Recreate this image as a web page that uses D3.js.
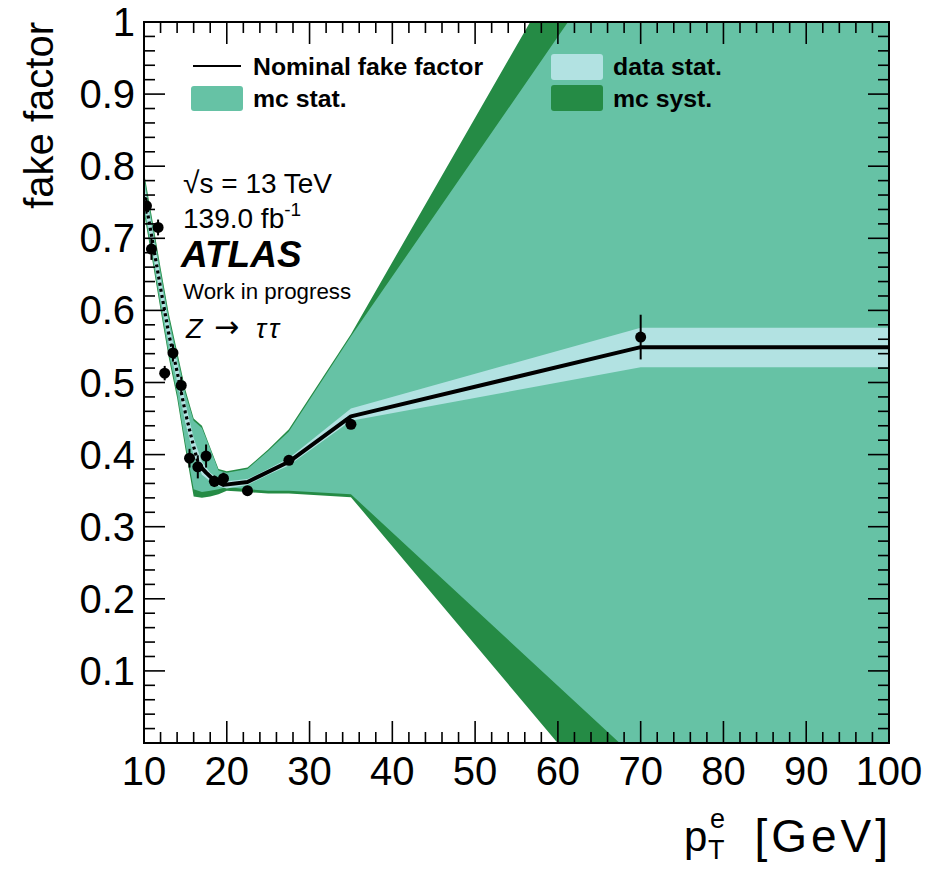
<!DOCTYPE html>
<html>
<head>
<meta charset="utf-8">
<script src="https://cdn.jsdelivr.net/npm/d3@7"></script>
<style>
  body { margin: 0; background: #fff; }
  svg { display: block; font-family: "Liberation Sans", Arial, Helvetica, sans-serif; }
</style>
</head>
<body>
<svg id="chart" width="945" height="870"></svg>
<script>
// Measured fake factors per electron pT bin
const ptData = [10.3, 10.9, 11.7, 12.5, 13.5, 14.5, 15.5, 16.5, 17.5, 18.5, 19.6, 22.5, 27.5, 35, 70];
const ffData = [0.745, 0.685, 0.715, 0.513, 0.541, 0.496, 0.395, 0.383, 0.398, 0.363, 0.367, 0.350, 0.392, 0.442, 0.563];
const ffErr  = [0.011, 0.015, 0.011, 0.010, 0.012, 0.012, 0.013, 0.016, 0.016, 0.008, 0.008, 0.006, 0.006, 0.006, 0.031];

// Nominal fake factor curve (dotted below the switch point, solid above)
const nomX = [10.1, 11, 12, 13, 14, 15, 16, 16.6, 17.5, 18.5, 19.6, 22.5, 27.5, 35, 70, 100];
const nomY = [0.757, 0.698, 0.631, 0.567, 0.515, 0.458, 0.411, 0.386, 0.375, 0.364, 0.358, 0.362, 0.390, 0.453, 0.549, 0.549];
const solidFrom = 16.6;

// Uncertainty band envelopes
const bandX     = [10.1, 11, 12, 13, 14, 15, 16, 17, 18, 19, 20, 22.5, 25, 27.5, 35, 70, 100];
const systUp    = [0.785, 0.726, 0.659, 0.595, 0.543, 0.490, 0.450, 0.440, 0.410, 0.380, 0.377, 0.382, 0.407, 0.435, 0.567, 1.267, 1.267];
const systDown  = [0.729, 0.670, 0.601, 0.534, 0.479, 0.408, 0.342, 0.340, 0.342, 0.345, 0.350, 0.348, 0.346, 0.346, 0.341, -0.137, -0.137];
const mcStatUp  = [0.779, 0.720, 0.653, 0.589, 0.537, 0.485, 0.447, 0.437, 0.408, 0.378, 0.375, 0.380, 0.405, 0.432, 0.564, 1.146, 1.146];
const mcStatDown= [0.735, 0.676, 0.607, 0.540, 0.485, 0.415, 0.352, 0.348, 0.350, 0.352, 0.355, 0.352, 0.350, 0.350, 0.345, -0.027, -0.027];
const dataStatUp   = [0.771, 0.712, 0.645, 0.581, 0.529, 0.472, 0.423, 0.390, 0.375, 0.366, 0.363, 0.366, 0.380, 0.395, 0.464, 0.576, 0.576];
const dataStatDown = [0.743, 0.684, 0.617, 0.553, 0.501, 0.444, 0.399, 0.372, 0.363, 0.356, 0.353, 0.358, 0.372, 0.385, 0.447, 0.521, 0.521];

const xTicks = [10, 20, 30, 40, 50, 60, 70, 80, 90, 100];
const yTicks = [0.1, 0.2, 0.3, 0.4, 0.5, 0.6, 0.7, 0.8, 0.9, 1];

const colSyst = "#258b45", colMcStat = "#66c2a5", colDataStat = "#b2e2e2";

const svg = d3.select("#chart");
const L = 144, R = 889, T = 22, B = 743;
const x = d3.scaleLinear().domain([10, 100]).range([L, R]);
const y = d3.scaleLinear().domain([0, 1]).range([B, T]);

svg.append("clipPath").attr("id", "plotclip")
  .append("rect").attr("x", L).attr("y", T).attr("width", R - L).attr("height", B - T);
const plot = svg.append("g").attr("clip-path", "url(#plotclip)");

function band(up, down) {
  return d3.area().x((d, i) => x(bandX[i])).y0((d, i) => y(down[i])).y1((d, i) => y(up[i]))(bandX);
}
plot.append("path").attr("d", band(systUp, systDown)).attr("fill", colSyst);
plot.append("path").attr("d", band(mcStatUp, mcStatDown)).attr("fill", colMcStat);
plot.append("path").attr("d", band(dataStatUp, dataStatDown)).attr("fill", colDataStat);

// nominal curve
const nomPts = nomX.map((v, i) => [v, nomY[i]]);
const line = d3.line().x(d => x(d[0])).y(d => y(d[1]));
plot.append("path").attr("d", line(nomPts.filter(d => d[0] <= solidFrom)))
  .attr("fill", "none").attr("stroke", "#000").attr("stroke-width", 3.2)
  .attr("stroke-dasharray", "3,3.2");
plot.append("path").attr("d", line(nomPts.filter(d => d[0] >= solidFrom)))
  .attr("fill", "none").attr("stroke", "#000").attr("stroke-width", 4)
  .attr("stroke-linejoin", "round");

// data points with error bars
const pts = plot.append("g");
ptData.forEach((v, i) => {
  pts.append("line").attr("x1", x(v)).attr("x2", x(v))
    .attr("y1", y(ffData[i] - ffErr[i])).attr("y2", y(ffData[i] + ffErr[i]))
    .attr("stroke", "#000").attr("stroke-width", 2);
  pts.append("circle").attr("cx", x(v)).attr("cy", y(ffData[i])).attr("r", 5.5).attr("fill", "#000");
});

// frame and ticks on all four sides
const ax = svg.append("g").attr("stroke", "#000").attr("stroke-width", 1.6);
ax.append("rect").attr("x", L).attr("y", T).attr("width", R - L).attr("height", B - T).attr("fill", "none").attr("stroke-width", 2);
d3.range(10, 100.001, 2).forEach(v => {
  const major = Math.abs(v % 10) < 1e-6;
  const len = major ? 22 : 11;
  ax.append("line").attr("x1", x(v)).attr("x2", x(v)).attr("y1", B).attr("y2", B - len);
  ax.append("line").attr("x1", x(v)).attr("x2", x(v)).attr("y1", T).attr("y2", T + len);
});
d3.range(0, 50.001, 1).forEach(k => {
  const v = k * 0.02;
  const major = k % 5 === 0;
  const len = major ? 21 : 11;
  ax.append("line").attr("y1", y(v)).attr("y2", y(v)).attr("x1", L).attr("x2", L + len);
  ax.append("line").attr("y1", y(v)).attr("y2", y(v)).attr("x1", R).attr("x2", R - len);
});

// tick labels
svg.append("g").selectAll("text").data(xTicks).join("text")
  .attr("x", d => x(d)).attr("y", 785).attr("text-anchor", "middle")
  .attr("font-size", 40).text(d => String(d));
svg.append("g").selectAll("text").data(yTicks).join("text")
  .attr("x", 135).attr("y", d => y(d) + 14).attr("text-anchor", "end")
  .attr("font-size", 40).text(d => d === 1 ? "1" : d3.format(".1f")(d));

// axis titles
svg.append("text").attr("transform", "translate(53,22) rotate(-90)")
  .attr("text-anchor", "end").attr("font-size", 40).text("fake factor");
const xtg = svg.append("g");
xtg.append("text").attr("x", 684).attr("y", 851).attr("font-size", 42).text("p");
xtg.append("text").attr("x", 708).attr("y", 859).attr("font-size", 27).text("T");
xtg.append("text").attr("x", 710).attr("y", 828).attr("font-size", 27).text("e");
xtg.append("text").attr("x", 892).attr("y", 852).attr("text-anchor", "end")
  .attr("font-size", 46).attr("letter-spacing", 4).text("[GeV]");

// legend
const lg = svg.append("g").attr("font-weight", "bold").attr("font-size", 24.8);
lg.append("line").attr("x1", 193).attr("x2", 241).attr("y1", 66).attr("y2", 66).attr("stroke", "#000").attr("stroke-width", 2);
lg.append("text").attr("x", 253).attr("y", 75).text("Nominal fake factor");
lg.append("rect").attr("x", 191).attr("y", 86).attr("width", 52).attr("height", 25).attr("rx", 3).attr("fill", colMcStat);
lg.append("text").attr("x", 253).attr("y", 107).text("mc stat.");
lg.append("rect").attr("x", 551).attr("y", 54).attr("width", 52).attr("height", 26).attr("rx", 3).attr("fill", colDataStat);
lg.append("text").attr("x", 613).attr("y", 75).text("data stat.");
lg.append("rect").attr("x", 551).attr("y", 85).attr("width", 52).attr("height", 26).attr("rx", 3).attr("fill", colSyst);
lg.append("text").attr("x", 613).attr("y", 107).text("mc syst.");

// annotations
const an = svg.append("g");
const rs = an.append("text").attr("x", 183).attr("y", 193).attr("font-size", 28);
rs.append("tspan").attr("font-size", 30).text("\u221A");
rs.append("tspan").text("s = 13 TeV");
const lumi = an.append("text").attr("x", 183).attr("y", 228).attr("font-size", 28);
lumi.append("tspan").text("139.0 fb");
lumi.append("tspan").attr("font-size", 19).attr("dy", -12).text("-1");
an.append("text").attr("x", 181).attr("y", 267).attr("font-size", 37)
  .attr("font-weight", "bold").attr("font-style", "italic").text("ATLAS");
an.append("text").attr("x", 183).attr("y", 299).attr("font-size", 22.3).text("Work in progress");
an.append("text").attr("x", 186).attr("y", 338).attr("font-size", 27).attr("font-style", "italic").text("Z");
an.append("text").attr("x", 214).attr("y", 337).attr("font-size", 30)
  .attr("font-family", "DejaVu Sans").text("\u2192");
an.append("text").attr("x", 256).attr("y", 338).attr("font-size", 27).attr("font-style", "italic")
  .attr("letter-spacing", 3).text("\u03C4\u03C4");
</script>
</body>
</html>
